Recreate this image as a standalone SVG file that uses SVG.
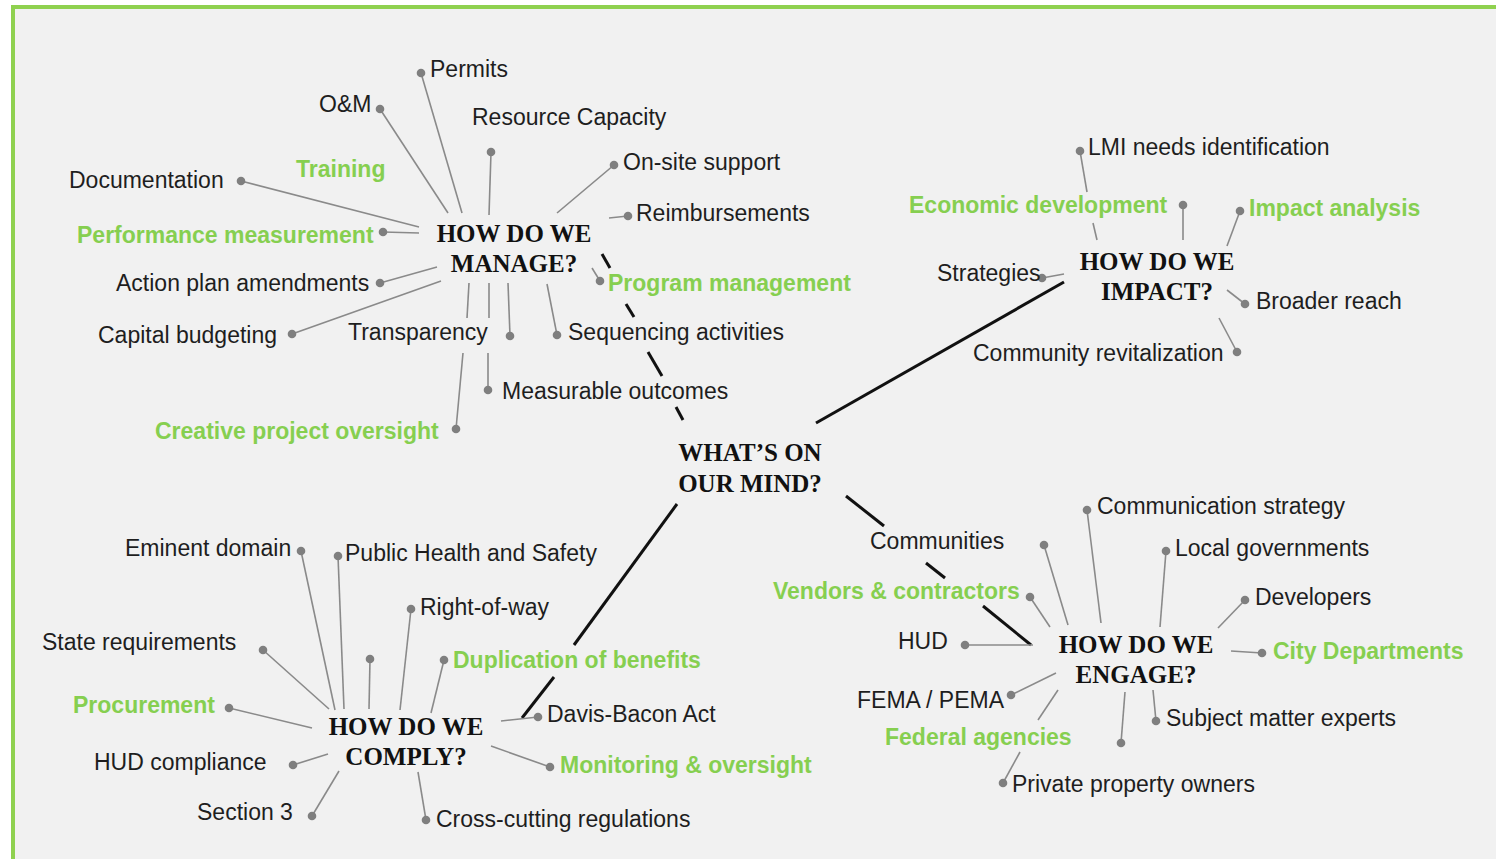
<svg xmlns="http://www.w3.org/2000/svg" width="1496" height="859" viewBox="0 0 1496 859">
<style>
.lf{font-family:"Liberation Sans",Arial,sans-serif;font-size:23px;fill:#1e1e1e}
.gr{font-family:"Liberation Sans",Arial,sans-serif;font-size:23px;font-weight:bold;fill:#86cf50}
.hub{font-family:"Liberation Serif","Times New Roman",serif;font-size:25px;font-weight:bold;fill:#111;text-anchor:middle}
.ln{stroke:#8a8a8a;stroke-width:1.6;fill:none}
.dot{fill:#7f7f7f}
.main{stroke:#111;stroke-width:3;fill:none}
</style>
<rect x="0" y="0" width="1496" height="859" fill="#ffffff"/>
<rect x="13" y="7" width="1483" height="852" fill="#f1f1f1"/>
<line x1="11" y1="7" x2="1496" y2="7" stroke="#8fd14f" stroke-width="4"/>
<line x1="13" y1="5" x2="13" y2="859" stroke="#8fd14f" stroke-width="4"/>

<g id="connectors">
<g class="main">
<line x1="602" y1="254" x2="610" y2="268"/><line x1="626" y1="304" x2="634" y2="317"/><line x1="648" y1="352" x2="662" y2="376"/><line x1="676" y1="407" x2="683" y2="420"/>
<line x1="816" y1="423" x2="1064" y2="282"/>
<line x1="677" y1="504" x2="574" y2="645"/><line x1="554" y1="677" x2="522" y2="718"/>
<line x1="846" y1="496" x2="884" y2="526"/><line x1="926" y1="563" x2="945" y2="578"/><line x1="983" y1="606" x2="1031" y2="645"/>
</g>
<g class="ln">
<line x1="421" y1="73" x2="462" y2="213"/><line x1="380" y1="109" x2="448" y2="213"/><line x1="491" y1="152" x2="489" y2="215"/><line x1="614" y1="165" x2="557" y2="213"/><line x1="241" y1="181" x2="419" y2="227"/><line x1="383" y1="232" x2="419" y2="233"/><line x1="609" y1="218" x2="628" y2="216"/><line x1="380" y1="283" x2="437" y2="267"/><line x1="600" y1="281" x2="592" y2="268"/><line x1="292" y1="334" x2="441" y2="281"/><line x1="469" y1="283" x2="467" y2="318"/><line x1="463" y1="353" x2="456" y2="429"/><line x1="489" y1="283" x2="489" y2="318"/><line x1="488" y1="353" x2="488" y2="390"/><line x1="508" y1="283" x2="510" y2="336"/><line x1="547" y1="284" x2="557" y2="335"/>
<line x1="1080" y1="151" x2="1087" y2="192"/><line x1="1093" y1="223" x2="1097" y2="240"/><line x1="1183" y1="205" x2="1183" y2="240"/><line x1="1240" y1="211" x2="1227" y2="246"/><line x1="1042" y1="278" x2="1064" y2="274"/><line x1="1227" y1="290" x2="1245" y2="304"/><line x1="1219" y1="318" x2="1237" y2="352"/>
<line x1="301" y1="551" x2="335" y2="710"/><line x1="338" y1="556" x2="344" y2="709"/><line x1="411" y1="609" x2="400" y2="710"/><line x1="370" y1="659" x2="369" y2="709"/><line x1="444" y1="660" x2="431" y2="713"/><line x1="263" y1="650" x2="329" y2="709"/><line x1="229" y1="708" x2="312" y2="728"/><line x1="293" y1="765" x2="328" y2="754"/><line x1="312" y1="816" x2="339" y2="771"/><line x1="501" y1="721" x2="538" y2="717"/><line x1="491" y1="746" x2="550" y2="767"/><line x1="418" y1="772" x2="426" y2="820"/>
<line x1="1087" y1="510" x2="1101" y2="623"/><line x1="1044" y1="545" x2="1068" y2="625"/><line x1="1166" y1="551" x2="1160" y2="627"/><line x1="1030" y1="597" x2="1050" y2="627"/><line x1="1245" y1="600" x2="1218" y2="628"/><line x1="965" y1="645" x2="1033" y2="645"/><line x1="1231" y1="651" x2="1262" y2="653"/><line x1="1011" y1="695" x2="1056" y2="673"/><line x1="1153" y1="690" x2="1156" y2="721"/><line x1="1058" y1="690" x2="1038" y2="720"/><line x1="1020" y1="752" x2="1003" y2="783"/><line x1="1125" y1="692" x2="1121" y2="743"/>
</g>
<g class="dot">
<circle cx="421" cy="73" r="4.3"/><circle cx="380" cy="109" r="4.3"/><circle cx="491" cy="152" r="4.3"/><circle cx="614" cy="165" r="4.3"/><circle cx="241" cy="181" r="4.3"/><circle cx="383" cy="232" r="4.3"/><circle cx="628" cy="216" r="4.3"/><circle cx="380" cy="283" r="4.3"/><circle cx="600" cy="281" r="4.3"/><circle cx="292" cy="334" r="4.3"/><circle cx="510" cy="336" r="4.3"/><circle cx="557" cy="335" r="4.3"/><circle cx="488" cy="390" r="4.3"/><circle cx="456" cy="429" r="4.3"/>
<circle cx="1080" cy="151" r="4.3"/><circle cx="1183" cy="205" r="4.3"/><circle cx="1240" cy="211" r="4.3"/><circle cx="1042" cy="278" r="4.3"/><circle cx="1245" cy="304" r="4.3"/><circle cx="1237" cy="352" r="4.3"/>
<circle cx="301" cy="551" r="4.3"/><circle cx="338" cy="556" r="4.3"/><circle cx="411" cy="609" r="4.3"/><circle cx="370" cy="659" r="4.3"/><circle cx="444" cy="660" r="4.3"/><circle cx="263" cy="650" r="4.3"/><circle cx="229" cy="708" r="4.3"/><circle cx="293" cy="765" r="4.3"/><circle cx="312" cy="816" r="4.3"/><circle cx="538" cy="717" r="4.3"/><circle cx="550" cy="767" r="4.3"/><circle cx="426" cy="820" r="4.3"/>
<circle cx="1087" cy="510" r="4.3"/><circle cx="1044" cy="545" r="4.3"/><circle cx="1166" cy="551" r="4.3"/><circle cx="1030" cy="597" r="4.3"/><circle cx="1245" cy="600" r="4.3"/><circle cx="965" cy="645" r="4.3"/><circle cx="1262" cy="653" r="4.3"/><circle cx="1011" cy="695" r="4.3"/><circle cx="1156" cy="721" r="4.3"/><circle cx="1003" cy="783" r="4.3"/><circle cx="1121" cy="743" r="4.3"/>
</g>
</g>

<g id="center"><text class="hub" x="750" y="461">WHAT’S ON</text><text class="hub" x="750" y="492">OUR MIND?</text></g>

<g id="manage">
<text class="hub" x="514" y="242">HOW DO WE</text><text class="hub" x="514" y="272">MANAGE?</text>
<text class="lf" x="430" y="77">Permits</text>
<text class="lf" x="319" y="112">O&amp;M</text>
<text class="lf" x="472" y="125">Resource Capacity</text>
<text class="lf" x="623" y="170">On-site support</text>
<text class="lf" x="69" y="188">Documentation</text>
<text class="gr" x="296" y="177">Training</text>
<text class="gr" x="77" y="243">Performance measurement</text>
<text class="lf" x="636" y="221">Reimbursements</text>
<text class="lf" x="116" y="291">Action plan amendments</text>
<text class="gr" x="608" y="291">Program management</text>
<text class="lf" x="98" y="343">Capital budgeting</text>
<text class="lf" x="348" y="340">Transparency</text>
<text class="lf" x="568" y="340">Sequencing activities</text>
<text class="lf" x="502" y="399">Measurable outcomes</text>
<text class="gr" x="155" y="439">Creative project oversight</text>
</g>

<g id="impact">
<text class="hub" x="1157" y="270">HOW DO WE</text><text class="hub" x="1157" y="300">IMPACT?</text>
<text class="lf" x="1088" y="155">LMI needs identification</text>
<text class="gr" x="909" y="213">Economic development</text>
<text class="gr" x="1249" y="216">Impact analysis</text>
<text class="lf" x="937" y="281">Strategies</text>
<text class="lf" x="1256" y="309">Broader reach</text>
<text class="lf" x="973" y="361">Community revitalization</text>
</g>

<g id="comply">
<text class="hub" x="406" y="735">HOW DO WE</text><text class="hub" x="406" y="765">COMPLY?</text>
<text class="lf" x="125" y="556">Eminent domain</text>
<text class="lf" x="345" y="561">Public Health and Safety</text>
<text class="lf" x="420" y="615">Right-of-way</text>
<text class="gr" x="453" y="668">Duplication of benefits</text>
<text class="lf" x="42" y="650">State requirements</text>
<text class="gr" x="73" y="713">Procurement</text>
<text class="lf" x="94" y="770">HUD compliance</text>
<text class="lf" x="197" y="820">Section 3</text>
<text class="lf" x="547" y="722">Davis-Bacon Act</text>
<text class="gr" x="560" y="773">Monitoring &amp; oversight</text>
<text class="lf" x="436" y="827">Cross-cutting regulations</text>
</g>

<g id="engage">
<text class="hub" x="1136" y="653">HOW DO WE</text><text class="hub" x="1136" y="683">ENGAGE?</text>
<text class="lf" x="1097" y="514">Communication strategy</text>
<text class="lf" x="870" y="549">Communities</text>
<text class="lf" x="1175" y="556">Local governments</text>
<text class="gr" x="773" y="599">Vendors &amp; contractors</text>
<text class="lf" x="1255" y="605">Developers</text>
<text class="lf" x="898" y="649">HUD</text>
<text class="gr" x="1273" y="659">City Departments</text>
<text class="lf" x="857" y="708">FEMA / PEMA</text>
<text class="lf" x="1166" y="726">Subject matter experts</text>
<text class="gr" x="885" y="745">Federal agencies</text>
<text class="lf" x="1012" y="792">Private property owners</text>
</g>
</svg>
